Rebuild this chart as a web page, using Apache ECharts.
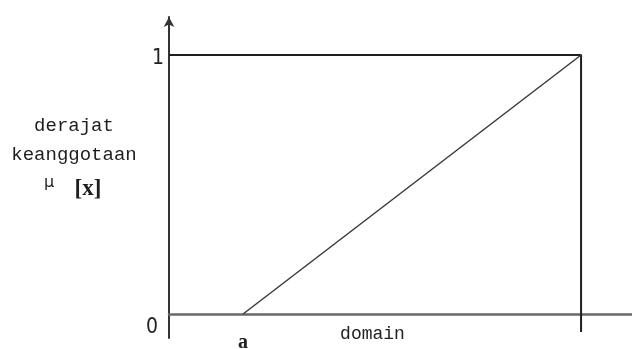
<!DOCTYPE html>
<html>
<head>
<meta charset="utf-8">
<script src="https://cdn.jsdelivr.net/npm/echarts@6/dist/echarts.min.js"></script>
<style>
  html, body { margin: 0; padding: 0; background: #ffffff; }
  #chart { width: 632px; height: 349px; }
</style>
</head>
<body>
<div id="chart"></div>
<script>
// ---- data ----
const xDomain = [0, 100];              // domain range shown
const aValue = 16;                      // start of the ramp ("a")
const bValue = 89;                      // point where membership reaches 1
const rampX = [aValue, bValue];
const rampY = [0, 1];
const frameX = [0, bValue, bValue];     // level-1 line and right guide
const frameY = [1, 1, -0.07];
const yTickValues = [0, 1];
const yTickLabels = ['0', '1'];
const xTickValues = [aValue];
const xTickLabels = ['a'];
const xAxisName = 'domain';
const yNameLines = ['derajat', 'keanggotaan'];
const muSymbol = 'μ';
const muArg = '[x]';
const yRange = [-0.0927, 1.1467];

const rampData = rampX.map((x, i) => [x, rampY[i]]);
const frameData = frameX.map((x, i) => [x, frameY[i]]);

const chart = echarts.init(document.getElementById('chart'), null, { renderer: 'canvas' });
chart.setOption({
  animation: false,
  backgroundColor: '#ffffff',
  grid: { left: 169, right: 0, top: 17, bottom: 11, containLabel: false, outerBoundsMode: 'none' },
  xAxis: {
    type: 'value',
    min: xDomain[0],
    max: xDomain[1],
    axisLine: { show: true, onZero: true, lineStyle: { color: '#6a6a6a', width: 2.5 } },
    axisTick: { show: false },
    splitLine: { show: false },
    axisLabel: {
      customValues: xTickValues,
      formatter: v => { const i = xTickValues.indexOf(v); return i >= 0 ? xTickLabels[i] : ''; },
      margin: -5,
      fontFamily: '"Liberation Serif"',
      fontWeight: 'bold',
      fontSize: 20,
      color: '#222'
    },
    name: xAxisName,
    nameLocation: 'middle',
    nameGap: -13,
    nameMoveOverlap: false,
    nameTextStyle: {
      fontFamily: '"Liberation Mono"',
      fontSize: 18,
      color: '#222',
      padding: [0, 56, 0, 0]
    }
  },
  yAxis: {
    type: 'value',
    min: yRange[0],
    max: yRange[1],
    axisLine: {
      show: true,
      lineStyle: { color: '#333', width: 2 },
      symbol: ['none', 'arrow'],
      symbolSize: [8, 10]
    },
    axisTick: { show: false },
    splitLine: { show: false },
    axisLabel: {
      customValues: yTickValues,
      margin: 5,
      formatter: v => {
        const i = yTickValues.indexOf(v);
        if (i < 0) return '';
        return v === 0 ? '{zero|' + yTickLabels[i] + '}' : '{one|' + yTickLabels[i] + '}';
      },
      rich: {
        one: { fontFamily: '"DejaVu Sans Condensed"', fontSize: 21, color: '#222', padding: [8, 0, 0, 0] },
        zero: { fontFamily: '"DejaVu Sans Condensed"', fontSize: 21, color: '#222', padding: [28, 6, 0, 0] }
      }
    }
  },
  series: [
    {
      type: 'line',
      data: frameData,
      symbol: 'none',
      silent: true,
      lineStyle: { color: '#1e1e1e', width: 2 }
    },
    {
      type: 'line',
      data: rampData,
      symbol: 'none',
      silent: true,
      lineStyle: { color: '#3a3a3a', width: 1.5 }
    }
  ],
  graphic: [
    { type: 'text', x: 74, y: 126, style: { text: yNameLines[0], font: '19px "Liberation Mono"', fill: '#1e1e1e', textAlign: 'center', textVerticalAlign: 'middle' } },
    { type: 'text', x: 74, y: 155, style: { text: yNameLines[1], font: '19px "Liberation Mono"', fill: '#1e1e1e', textAlign: 'center', textVerticalAlign: 'middle' } },
    { type: 'text', x: 49, y: 183, style: { text: muSymbol, font: '16px "DejaVu Sans"', fill: '#1e1e1e', textAlign: 'center', textVerticalAlign: 'middle' } },
    { type: 'text', x: 88, y: 189, style: { text: muArg, font: 'bold 23px "Liberation Serif"', fill: '#1e1e1e', textAlign: 'center', textVerticalAlign: 'middle' } }
  ]
});
</script>
</body>
</html>
